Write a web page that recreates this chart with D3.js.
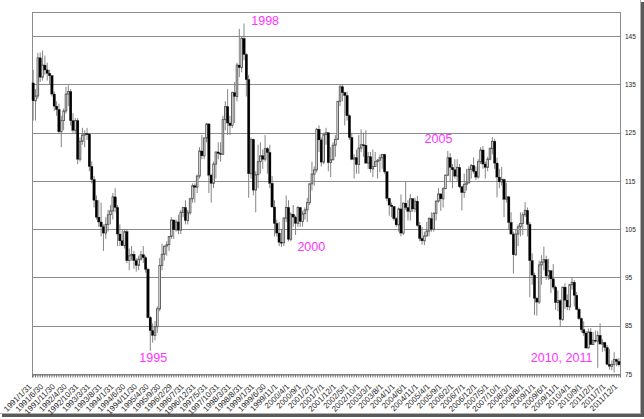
<!DOCTYPE html>
<html><head><meta charset="utf-8">
<script src="https://cdn.jsdelivr.net/npm/d3@7"></script>
<style>body{margin:0;background:#fff}svg{display:block}</style></head>
<body>
<script>
// Monthly OHLC, 1991/1 .. 2011/12 (251 bars)
const opens = [
135.3,131.6,132.6,140.5,136.5,139.0,138.0,137.3,136.8,133.0,130.5,129.8,
125.2,127.5,129.5,133.0,133.5,127.5,125.5,127.5,119.5,123.2,124.5,
124.8,124.7,118.0,115.3,111.0,107.5,106.5,105.5,104.2,106.0,108.0,108.8,
111.7,109.5,104.0,102.6,101.6,104.5,98.5,99.5,99.8,98.5,97.5,98.8,
99.7,99.1,96.7,86.7,84.0,83.0,84.8,88.5,97.5,99.8,101.5,101.8,
103.5,106.9,104.9,106.5,104.8,108.5,109.5,106.8,108.4,111.3,114.0,113.7,
116.0,121.2,120.2,123.9,126.8,116.2,114.5,118.5,121.0,120.7,120.5,127.7,
130.4,127.0,126.5,133.3,132.5,139.0,138.5,144.5,141.2,136.0,116.5,123.6,
113.1,116.3,119.0,120.2,119.5,121.7,120.9,114.5,109.6,106.2,104.2,102.3,
102.2,107.3,109.5,102.9,108.1,107.5,106.2,109.5,106.6,108.2,109.0,110.5,
114.4,116.4,117.3,125.7,123.5,118.9,124.6,125.0,118.8,119.4,122.4,123.6,
131.5,134.5,133.3,132.7,128.5,124.0,119.5,119.8,118.4,121.8,122.5,122.4,
118.7,120.0,117.5,118.0,119.0,119.3,119.8,120.5,116.9,111.4,110.0,109.7,
107.2,105.9,109.2,104.2,110.4,109.5,108.7,111.3,109.2,110.8,105.8,103.1,
102.6,103.6,104.6,107.2,105.0,108.3,110.8,112.3,111.3,113.4,116.2,119.8,
117.8,117.3,116.0,117.8,113.8,112.6,114.3,114.6,117.4,118.2,117.0,115.8,
119.0,121.4,118.5,117.8,119.5,121.7,123.2,118.7,115.8,114.8,115.3,111.2,
111.7,106.4,104.0,99.7,104.0,105.5,106.2,108.0,108.9,106.0,98.5,95.5,
90.7,89.9,97.6,98.2,98.7,95.3,96.4,94.7,93.0,89.8,90.2,86.3,
93.0,90.3,88.9,93.5,94.0,91.3,88.4,86.5,84.2,83.5,80.4,83.7,
81.1,82.0,81.8,83.0,81.2,81.5,80.5,77.0,76.6,77.0,78.0,77.6];
const highs = [
138.0,134.0,141.5,141.6,142.0,141.0,139.5,138.0,137.0,133.5,131.5,131.0,
128.5,130.0,134.5,134.8,134.0,129.0,128.0,128.0,124.0,126.0,125.5,
126.0,125.0,119.0,116.0,112.0,111.0,110.5,106.0,107.5,109.0,110.0,112.5,
113.5,110.0,106.0,105.0,105.0,105.0,101.0,101.5,100.5,99.0,99.5,100.5,
101.5,99.5,97.0,87.0,85.5,86.0,89.0,99.0,102.0,101.5,102.5,102.5,
107.5,107.0,107.0,108.0,109.0,109.5,111.0,109.0,111.5,114.5,114.5,116.3,
122.0,124.5,124.0,127.0,127.0,116.5,119.0,120.5,123.0,123.0,128.5,131.5,
134.0,128.5,133.5,135.5,139.5,146.5,145.0,147.6,141.5,137.0,124.0,123.8,
117.0,122.5,123.0,121.5,124.5,122.0,122.5,116.0,111.0,107.0,106.5,105.0,
107.5,112.0,111.0,108.5,110.0,107.8,109.8,109.6,108.8,109.5,111.5,114.5,
119.0,118.0,126.0,126.5,124.0,125.0,126.0,125.0,122.0,123.0,124.5,131.5,
135.0,135.0,133.5,133.5,128.8,125.0,120.5,121.5,124.5,125.7,125.0,125.5,
121.0,121.0,121.5,121.0,119.5,120.5,120.5,120.6,117.0,111.5,110.5,109.8,
107.5,109.5,112.2,110.5,114.9,111.0,112.3,111.4,111.5,111.9,106.5,105.5,
104.5,106.5,107.5,108.5,108.5,111.0,113.5,112.5,113.7,116.3,121.2,120.8,
118.5,119.5,119.5,118.5,114.0,116.5,117.5,118.0,118.5,119.9,118.0,119.5,
122.0,122.2,119.0,120.0,122.0,124.1,123.7,119.8,117.5,117.9,115.5,114.6,
111.9,108.5,104.5,105.0,106.0,108.5,108.5,110.6,109.5,106.5,100.0,96.0,
91.0,98.5,99.6,101.4,99.5,98.9,96.5,97.8,93.3,92.3,90.5,93.0,
93.8,91.5,93.7,94.9,94.5,92.0,88.8,86.7,85.9,83.9,84.4,84.5,
83.7,84.0,83.9,85.5,82.2,81.7,81.0,80.2,77.8,79.5,78.2,78.3];
const lows = [
127.5,127.5,132.0,135.5,135.8,137.0,135.8,135.0,132.5,129.5,128.5,124.8,
122.0,125.5,129.0,130.5,126.5,125.0,124.8,118.5,119.0,122.5,122.0,
123.5,117.0,114.5,109.5,107.0,105.5,103.5,100.5,103.0,104.5,106.0,107.0,
108.5,101.5,101.5,101.5,101.0,98.0,96.5,98.5,96.8,96.2,96.5,98.5,
98.0,96.0,86.5,79.8,81.5,82.0,83.5,88.0,96.5,98.5,99.5,100.5,
103.0,103.0,104.5,104.0,104.0,107.5,106.0,106.0,108.0,110.5,110.5,112.5,
115.5,119.5,119.5,123.0,112.5,110.5,113.5,115.5,119.5,119.0,120.5,125.5,
124.5,124.5,126.0,127.0,131.5,136.5,137.5,140.0,132.5,111.5,115.5,112.0,
108.5,113.5,116.5,117.5,119.0,116.5,113.5,109.5,103.5,103.5,101.5,101.3,
101.5,106.5,102.5,102.5,105.5,103.8,105.5,105.5,105.5,107.0,106.5,110.0,
113.0,114.0,116.8,121.0,118.0,118.5,122.5,117.0,115.8,119.2,120.0,123.5,
130.5,131.5,126.5,127.5,123.5,119.3,115.5,116.5,116.5,121.0,120.0,118.5,
117.5,116.7,115.8,118.0,115.5,116.8,117.5,116.5,110.8,107.8,107.5,106.8,
105.5,104.5,103.5,103.8,109.0,106.8,106.8,108.6,108.5,105.5,102.5,101.8,
101.7,103.5,103.5,104.5,104.5,106.8,110.5,108.8,109.5,113.3,116.0,115.0,
113.5,115.5,115.0,113.5,108.9,111.5,113.0,114.5,115.5,116.5,115.2,115.5,
118.5,117.5,115.5,117.0,119.3,120.5,117.5,111.6,113.5,114.0,107.5,110.5,
104.9,103.8,95.8,99.5,101.5,103.5,103.8,107.5,103.5,90.9,93.5,87.2,
87.1,89.5,93.5,96.5,94.5,94.5,91.8,92.5,88.3,88.0,84.8,86.0,
88.5,88.2,88.2,92.5,89.0,88.2,86.2,83.6,82.9,80.2,80.3,81.0,
81.0,81.5,76.3,81.2,79.6,79.7,76.8,75.9,75.8,75.3,76.6,76.6];
const closes = [
131.6,132.6,140.5,136.5,139.0,138.0,137.3,136.8,133.0,130.5,129.8,125.2,
127.5,129.5,133.0,133.5,127.5,125.5,127.5,119.5,123.2,124.5,124.8,
124.7,118.0,115.3,111.0,107.5,106.5,105.5,104.2,106.0,108.0,108.8,111.7,
109.5,104.0,102.6,101.6,104.5,98.5,99.5,99.8,98.5,97.5,98.8,99.7,
99.1,96.7,86.7,84.0,83.0,84.8,88.5,97.5,99.8,101.5,101.8,103.5,
106.9,104.9,106.5,104.8,108.5,109.5,106.8,108.4,111.3,114.0,113.7,116.0,
121.2,120.2,123.9,126.8,116.2,114.5,118.5,121.0,120.7,120.5,127.7,130.4,
127.0,126.5,133.3,132.5,139.0,138.5,144.5,141.2,136.0,116.5,123.6,113.1,
116.3,119.0,120.2,119.5,121.7,120.9,114.5,109.6,106.2,104.2,102.3,102.2,
107.3,109.5,102.9,108.1,107.5,106.2,109.5,106.6,108.2,109.0,110.5,114.4,
116.4,117.3,125.7,123.5,118.9,124.6,125.0,118.8,119.4,122.4,123.6,131.5,
134.5,133.3,132.7,128.5,124.0,119.5,119.8,118.4,121.8,122.5,122.4,118.7,
120.0,117.5,118.0,119.0,119.3,119.8,120.5,116.9,111.4,110.0,109.7,107.2,
105.9,109.2,104.2,110.4,109.5,108.7,111.3,109.2,110.8,105.8,103.1,102.6,
103.6,104.6,107.2,105.0,108.3,110.8,112.3,111.3,113.4,116.2,119.8,117.8,
117.3,116.0,117.8,113.8,112.6,114.3,114.6,117.4,118.2,117.0,115.8,119.0,
121.4,118.5,117.8,119.5,121.7,123.2,118.7,115.8,114.8,115.3,111.2,111.7,
106.4,104.0,99.7,104.0,105.5,106.2,108.0,108.9,106.0,98.5,95.5,90.7,
89.9,97.6,98.2,98.7,95.3,96.4,94.7,93.0,89.8,90.2,86.3,93.0,
90.3,88.9,93.5,94.0,91.3,88.4,86.5,84.2,83.5,80.4,83.7,81.1,
82.0,81.8,83.0,81.2,81.5,80.5,77.0,76.6,77.0,78.0,77.6,76.9];

// tick labels, one every 5 bars
const xLabels = [
"1991/1/31","1991/6/30","1991/11/30","1992/4/30","1992/10/31","1993/3/31","1993/8/31",
"1994/1/31","1994/6/30","1994/11/30","1995/4/30","1995/9/30","1996/2/29","1996/7/31",
"1996/12/31","1997/5/31","1997/10/31","1998/3/31","1998/8/31","1999/1/31","1999/6/30",
"1999/11/1","2000/4/1","2000/9/1","2001/2/1","2001/7/1","2001/12/1","2002/5/1",
"2002/10/1","2003/3/1","2003/8/1","2004/1/1","2004/6/1","2004/11/1","2005/4/1",
"2005/9/1","2006/2/1","2006/7/1","2006/12/1","2007/5/1","2007/10/1","2008/3/1",
"2008/8/1","2009/1/1","2009/6/1","2009/11/1","2010/4/1","2010/9/1","2011/2/1",
"2011/7/1","2011/12/1"];
const yTicks = [75,85,95,105,115,125,135,145];
const noteText = ["1998","2000","1995","2005","2010, 2011"];
const noteBar = [93.6,113.3,45.8,167.6,212.9];
const noteVal = [147.3,100.4,77.5,122.9,77.5];

(function () {
const W = 644, H = 419;
const svg = d3.select("body").append("svg").attr("width", W).attr("height", H);
const pL = 32, pR = 620, pT = 12, pB = 374;
const n = closes.length;
const idx = d3.range(n);
const x = d3.scaleBand().domain(idx).range([pL, pR]).padding(0);
const y = d3.scaleLinear().domain([75, 150]).range([pB, pT]);
const xl = d3.scaleLinear().domain([0, n]).range([pL, pR]);
const bw = x.bandwidth();

// outer frame with shadow
svg.append("rect").attr("x", 641).attr("y", 2).attr("width", 3).attr("height", 415).attr("fill", "#5a5a5a");
svg.append("rect").attr("x", 2).attr("y", 414).attr("width", 642).attr("height", 3).attr("fill", "#5a5a5a");
svg.append("line").attr("x1", 640.5).attr("x2", 640.5).attr("y1", 0).attr("y2", 414).attr("stroke", "#b0b0b0");
svg.append("line").attr("x1", 0).attr("x2", 641).attr("y1", 413.5).attr("y2", 413.5).attr("stroke", "#b0b0b0");

// grid
const g = svg.append("g");
g.selectAll("line.grid").data(yTicks).join("line")
  .attr("x1", pL).attr("x2", pR)
  .attr("y1", d => Math.round(y(d)) + 0.5).attr("y2", d => Math.round(y(d)) + 0.5)
  .attr("stroke", "#8c8c8c").attr("stroke-width", 1);
g.append("rect").attr("x", pL + 0.5).attr("y", pT + 0.5)
  .attr("width", pR - pL).attr("height", pB - pT)
  .attr("fill", "none").attr("stroke", "#8c8c8c");

// bottom axis with monthly ticks
const xAxis = d3.axisBottom(x).tickSize(3).tickFormat("");
const ax = svg.append("g").attr("transform", `translate(0,${pB + 0.5})`).call(xAxis);
ax.select(".domain").attr("stroke", "#777");
ax.selectAll(".tick line").attr("stroke", "#777");

// x labels
svg.append("g").selectAll("text").data(xLabels).join("text")
  .attr("transform", (d, i) => `translate(${x(i * 5) + bw / 2 - 1},${pB + 13}) rotate(-45)`)
  .attr("text-anchor", "end")
  .attr("font-family", "Liberation Sans, Arial, sans-serif")
  .attr("font-size", "8px")
  .attr("fill", "#2a2a2a")
  .text(d => d);

// y labels on right
const yAxis = d3.axisRight(y).tickValues(yTicks).tickSize(0).tickPadding(5);
const ay = svg.append("g").attr("transform", `translate(${pR},0)`).call(yAxis);
ay.select(".domain").remove();
ay.selectAll("text").attr("font-family", "Liberation Sans, Arial, sans-serif")
  .attr("font-size", "6.5px").attr("fill", "#222");

// candles
const cg = svg.append("g");
cg.selectAll("line.wick").data(idx).join("line")
  .attr("x1", i => x(i) + bw / 2).attr("x2", i => x(i) + bw / 2)
  .attr("y1", i => y(highs[i])).attr("y2", i => y(lows[i]))
  .attr("stroke", "#777").attr("stroke-width", 0.9);
const up = i => closes[i] >= opens[i];
cg.selectAll("rect.body").data(idx).join("rect")
  .attr("x", i => up(i) ? x(i) + bw / 2 - 0.8 : x(i) + bw / 2 - 1.2)
  .attr("width", i => up(i) ? 1.6 : 2.4)
  .attr("y", i => y(Math.max(opens[i], closes[i])))
  .attr("height", i => Math.max(1, Math.abs(y(opens[i]) - y(closes[i]))))
  .attr("fill", i => up(i) ? "#fff" : "#000")
  .attr("stroke", i => up(i) ? "#555" : "#000")
  .attr("stroke-width", i => up(i) ? 0.9 : 0.3);

// annotations
svg.append("g").selectAll("text").data(noteText).join("text")
  .attr("x", (d, i) => xl(noteBar[i]))
  .attr("y", (d, i) => y(noteVal[i]))
  .attr("font-family", "Liberation Sans, Arial, sans-serif")
  .attr("font-size", "12.5px")
  .attr("fill", "#ff33ff")
  .text(d => d);
})();
</script>
</body></html>
